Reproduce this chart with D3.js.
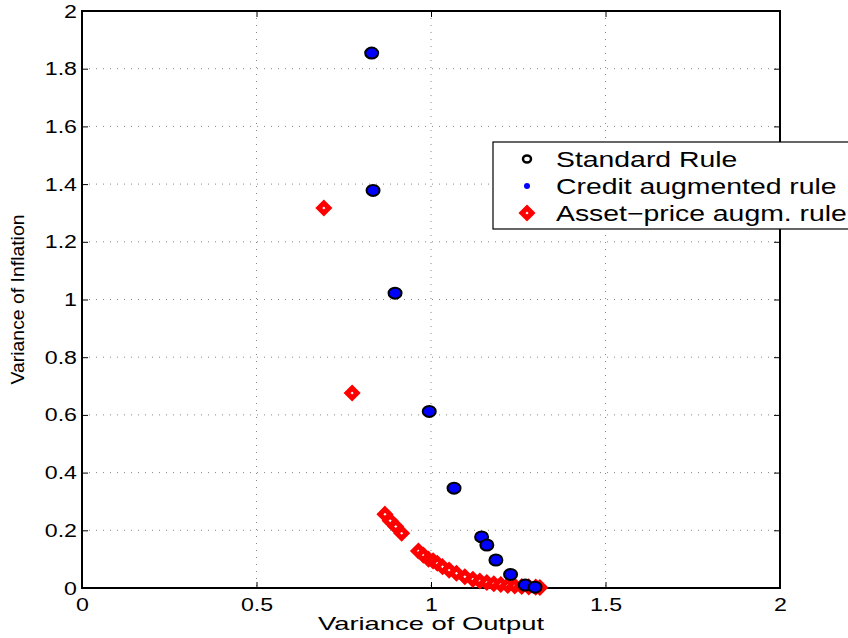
<!DOCTYPE html>
<html><head><meta charset="utf-8">
<script src="https://cdn.jsdelivr.net/npm/d3@7"></script>
<style>body{margin:0;background:#fff}svg{display:block}</style>
</head><body><svg id="c" width="848" height="638"></svg>
<script>
const xTicks = [0, 0.5, 1, 1.5, 2];
const yTicks = [0, 0.2, 0.4, 0.6, 0.8, 1, 1.2, 1.4, 1.6, 1.8, 2];
const standardX = [0.83, 0.834, 0.897, 0.995, 1.066, 1.145, 1.16, 1.186, 1.228, 1.27, 1.298];
const standardY = [1.854, 1.378, 1.022, 0.612, 0.346, 0.177, 0.149, 0.097, 0.047, 0.01, 0.003];
const creditX = [0.83, 0.834, 0.897, 0.995, 1.066, 1.145, 1.16, 1.186, 1.228, 1.27, 1.298];
const creditY = [1.854, 1.378, 1.022, 0.612, 0.346, 0.177, 0.149, 0.097, 0.047, 0.01, 0.003];
const assetX = [0.693, 0.774, 0.868, 0.883, 0.899, 0.916, 0.964, 0.978, 0.993, 1.006, 1.018, 1.033, 1.052, 1.073, 1.097, 1.12, 1.14, 1.16, 1.18, 1.2, 1.22, 1.24, 1.26, 1.28, 1.3, 1.312];
const assetY = [1.317, 0.676, 0.256, 0.233, 0.213, 0.19, 0.128, 0.114, 0.1, 0.094, 0.086, 0.074, 0.062, 0.051, 0.039, 0.03, 0.024, 0.019, 0.015, 0.012, 0.009, 0.007, 0.005, 0.004, 0.003, 0.002];
const legendLabels = ["Standard Rule", "Credit augmented rule", "Asset\u2212price augm. rule"];

const svg = d3.select("#c");
const L = 82, R = 780, T = 11, B = 588;
const x = d3.scaleLinear().domain([0, 2]).range([L, R]);
const y = d3.scaleLinear().domain([0, 2]).range([B, T]);
const font = "'Liberation Sans', Arial, Helvetica, sans-serif";

// grid
const g = svg.append("g");
g.selectAll(".gx").data(xTicks.slice(1, -1)).enter().append("line")
  .attr("x1", d => x(d)).attr("x2", d => x(d)).attr("y1", T).attr("y2", B)
  .attr("stroke", "#888").attr("stroke-width", 1).attr("stroke-dasharray", "1,6");
g.selectAll(".gy").data(yTicks.slice(1, -1)).enter().append("line")
  .attr("y1", d => y(d)).attr("y2", d => y(d)).attr("x1", L).attr("x2", R)
  .attr("stroke", "#888").attr("stroke-width", 1).attr("stroke-dasharray", "1,6");

// axes
const xAxis = d3.axisBottom(x).tickValues(xTicks).tickSize(-6).tickPadding(14).tickFormat(d3.format("~g"));
const yAxis = d3.axisLeft(y).tickValues(yTicks).tickSize(-6).tickPadding(5).tickFormat(d3.format("~g"));
const xa = svg.append("g").attr("transform", `translate(0,${B})`).call(xAxis);
const ya = svg.append("g").attr("transform", `translate(${L},0)`).call(yAxis);
const xt = svg.append("g").attr("transform", `translate(0,${T})`).call(d3.axisTop(x).tickValues(xTicks).tickSize(-6).tickFormat(""));
const yr = svg.append("g").attr("transform", `translate(${R},0)`).call(d3.axisRight(y).tickValues(yTicks).tickSize(-6).tickFormat(""));
[xa, ya, xt, yr].forEach(a => {
  a.select(".domain").remove();
  a.selectAll(".tick line").attr("stroke", "#000").attr("stroke-width", 1);
  a.selectAll("text").attr("font-family", font).attr("font-size", 19).attr("fill", "#000");
});
xa.selectAll(".tick text").attr("dy", "0.45em").attr("transform", "scale(1.22,1)");
ya.selectAll(".tick text").attr("transform", "scale(1.22,1)").attr("x", -5 / 1.22);

svg.append("rect").attr("x", L).attr("y", T).attr("width", R - L).attr("height", B - T)
  .attr("fill", "none").attr("stroke", "#000").attr("stroke-width", 2);

// axis labels
svg.append("text").attr("x", x(1)).attr("y", 630).attr("text-anchor", "middle")
  .attr("font-family", font).attr("font-size", 19).attr("textLength", 226).attr("lengthAdjust", "spacingAndGlyphs")
  .text("Variance of Output");
svg.append("text").attr("transform", `translate(24,${y(1)}) rotate(-90)`).attr("text-anchor", "middle")
  .attr("font-family", font).attr("font-size", 18).attr("textLength", 170).attr("lengthAdjust", "spacingAndGlyphs")
  .text("Variance of Inflation");

// data
const diamond = (s) => `M0,${-s}L${s},0L0,${s}L${-s},0Z`;
const assets = assetX.map((d, i) => [d, assetY[i]]);
const std = standardX.map((d, i) => [d, standardY[i]]);
const cred = creditX.map((d, i) => [d, creditY[i]]);

svg.append("g").selectAll("path").data(assets).enter().append("path")
  .attr("transform", d => `translate(${x(d[0])},${y(d[1])})`)
  .attr("d", diamond(5)).attr("fill", "#fff").attr("stroke", "#f00").attr("stroke-width", 5)
  .attr("stroke-linejoin", "miter");
svg.append("g").selectAll("ellipse").data(std).enter().append("ellipse")
  .attr("cx", d => x(d[0])).attr("cy", d => y(d[1])).attr("rx", 6.5).attr("ry", 5.5)
  .attr("fill", "#00f").attr("stroke", "#000").attr("stroke-width", 2);
svg.append("g").selectAll("circle").data(cred).enter().append("circle")
  .attr("cx", d => x(d[0])).attr("cy", d => y(d[1])).attr("r", 3).attr("fill", "#00f");

// legend
const lg = svg.append("g");
lg.append("rect").attr("x", 493).attr("y", 142).attr("width", 370).attr("height", 87)
  .attr("fill", "#fff").attr("stroke", "#000").attr("stroke-width", 1.2);
const rows = [159, 186, 213];
lg.append("ellipse").attr("cx", 527).attr("cy", rows[0]).attr("rx", 4).attr("ry", 3.5)
  .attr("fill", "#fff").attr("stroke", "#000").attr("stroke-width", 2.5);
lg.append("circle").attr("cx", 527).attr("cy", rows[1]).attr("r", 3).attr("fill", "#00f");
lg.append("path").attr("transform", `translate(527,${rows[2]})`).attr("d", diamond(5))
  .attr("fill", "#fff").attr("stroke", "#f00").attr("stroke-width", 5);
lg.selectAll("text").data(legendLabels).enter().append("text")
  .attr("transform", (d, i) => `translate(556,${rows[i]}) scale(1.29,1)`).attr("dy", "0.36em")
  .attr("font-family", font).attr("font-size", 22).text(d => d);
</script></body></html>
